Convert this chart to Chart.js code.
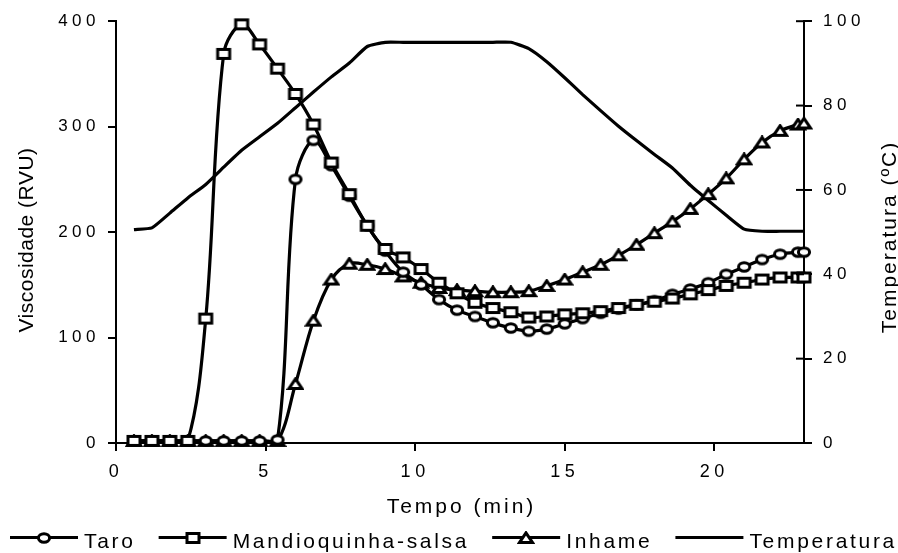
<!DOCTYPE html>
<html>
<head>
<meta charset="utf-8">
<style>
html,body{margin:0;padding:0;background:#fff;}
#wrap{width:898px;height:553px;position:relative;}
</style>
<script src="https://cdn.jsdelivr.net/npm/chart.js@4.4.0/dist/chart.umd.min.js"></script>
</head>
<body>
<div id="wrap"><canvas id="c" width="898" height="553"></canvas></div>
<script>
// ---- data ----
const times = [0.6,1.2,1.8,2.4,3.0,3.6,4.2,4.8,5.4,6.0,6.6,7.2,7.8,8.4,9.0,9.6,10.2,10.8,11.4,12.0,12.6,13.2,13.8,14.4,15.0,15.6,16.2,16.8,17.4,18.0,18.6,19.2,19.8,20.4,21.0,21.6,22.2,22.8,23.0];
const taro = [2,2,2,2,2,2,2,2,3,250,287,263,234,206,182,162,150,136,126,120,114,109,106,108,113,118,123,127,131,135,141,146,152,160,167,174,179,181,181];
const mandioquinha = [2,2,2,2,118,369,397,378,355,331,302,266,236,206,184,176,165,152,142,133,128,124,119,120,122,123,125,128,131,134,137,141,145,149,152,155,157,157,157];
const inhame = [2,2,2,2,2,2,2,2,2,56,116,155,170,169,165,158,152,147,145,144,143,143,144,149,155,162,169,178,188,199,210,222,236,251,269,285,296,302,303];
const temperatura = [50.6,51.0,54.5,58.1,61.3,65.4,69.4,72.6,75.8,79.5,83.2,86.8,90.1,94.0,95,95,95,95,95,95,95,95,93.5,90.4,86.6,82.6,78.8,75.1,71.7,68.4,65.2,61.1,57.5,54.0,50.7,50.2,50.2,50.2,50.2];
const seriesLabels = ['Taro','Mandioquinha-salsa','Inhame','Temperatura'];
const xTicks = [0,5,10,15,20];
const yTicks = [0,100,200,300,400];
const y2Ticks = [0,20,40,60,80,100];
const xTitle = 'Tempo (min)';
const yTitle = 'Viscosidade (RVU)';
const y2Title = 'Temperatura (ºC)';

const FAM = '"Liberation Sans", Arial, Helvetica, sans-serif';

function makeMarker(type){
  const c = document.createElement('canvas');
  c.width = 18; c.height = 14;
  const g = c.getContext('2d');
  g.lineWidth = 3; g.strokeStyle = '#000'; g.fillStyle = '#fff';
  const cx = 9, cy = 7;
  g.beginPath();
  if (type === 'circle') g.ellipse(cx, cy, 5.6, 4.2, 0, 0, Math.PI*2);
  else if (type === 'rect') g.rect(cx-6, cy-4.5, 12, 9);
  else { g.moveTo(cx, cy-5.2); g.lineTo(cx+6.6, cy+4.6); g.lineTo(cx-6.6, cy+4.6); g.closePath(); }
  g.fill(); g.stroke();
  return c;
}
const mCircle = makeMarker('circle');
const mRect = makeMarker('rect');
const mTri = makeMarker('tri');

const pts = arr => times.map((t,i) => ({x:t, y:arr[i]}));

function lineDs(label, arr, marker, order, axis){
  return {
    label, data: pts(arr), yAxisID: axis, order,
    borderColor:'#000', borderWidth:3.2, backgroundColor:'#fff',
    tension: marker ? 0.35 : 0.15,
    pointStyle: marker || 'circle', pointRadius: marker ? 6 : 0,
    pointHoverRadius: marker ? 6 : 0,
    clip: false, fill:false, legendMarker: marker
  };
}

const tickGrid = {drawOnChartArea:false, drawTicks:true, tickLength:8, color:'#000', lineWidth:2};
const border = {display:true, color:'#000', width:2};

const deco = {
  id:'deco',
  beforeDraw(chart){ chart.ctx.letterSpacing = '4.5px'; },
  afterDraw(chart){
    const ctx = chart.ctx, a = chart.chartArea;
    ctx.save();
    // inward half of the crossing ticks on the right axis
    const s2 = chart.scales.y2;
    ctx.strokeStyle = '#000'; ctx.lineWidth = 2;
    s2.ticks.forEach(t => {
      const y = s2.getPixelForValue(t.value);
      ctx.beginPath(); ctx.moveTo(a.right - 8, y); ctx.lineTo(a.right, y); ctx.stroke();
    });
    // axis titles
    ctx.fillStyle = '#000'; ctx.textAlign = 'center'; ctx.textBaseline = 'alphabetic';
    ctx.font = '21px ' + FAM;
    ctx.letterSpacing = '3px';
    ctx.fillText(xTitle, (a.left + a.right)/2 + 1.5, 513);
    ctx.save(); ctx.translate(33, 240); ctx.rotate(-Math.PI/2);
    ctx.letterSpacing = '0.5px'; ctx.fillText(yTitle, 0, 0); ctx.restore();
    ctx.save(); ctx.translate(896, 237); ctx.rotate(-Math.PI/2);
    ctx.letterSpacing = '2px'; ctx.fillText(y2Title, 0, 0); ctx.restore();
    // legend
    ctx.textAlign = 'left';
    ctx.letterSpacing = '2.7px';
    const ds = chart.data.datasets;
    const widths = ds.map(d => ctx.measureText(d.label).width);
    const sampleW = 68, gapT = 6, startX = 10, endX = 897;
    const used = widths.reduce((s,w) => s + w + sampleW + gapT, 0);
    const gap = (endX - startX - used) / (ds.length - 1);
    let x = startX;
    const ly = 537.5, ty = 548;
    ds.forEach((d,i) => {
      ctx.beginPath(); ctx.lineWidth = 3.2; ctx.moveTo(x, ly); ctx.lineTo(x + sampleW, ly); ctx.stroke();
      if (d.legendMarker) {
        const m = d.legendMarker;
        ctx.drawImage(m, Math.round(x + sampleW/2 - m.width/2), Math.round(ly - m.height/2));
      }
      ctx.fillText(d.label, x + sampleW + gapT, ty);
      x += sampleW + gapT + widths[i] + gap;
    });
    ctx.restore();
  }
};

new Chart(document.getElementById('c'), {
  type:'line',
  data:{
    datasets:[
      lineDs(seriesLabels[0], taro, mCircle, 1, 'y'),
      lineDs(seriesLabels[1], mandioquinha, mRect, 0, 'y'),
      lineDs(seriesLabels[2], inhame, mTri, 2, 'y'),
      lineDs(seriesLabels[3], temperatura, null, 3, 'y2')
    ]
  },
  options:{
    responsive:false, animation:false, devicePixelRatio:1,
    layout:{padding:{left:56, right:34, top:19, bottom:60}},
    plugins:{legend:{display:false}, tooltip:{enabled:false}},
    scales:{
      x:{type:'linear', min:0, max:23,
        afterFit(s){ s.height = 50; },
        afterBuildTicks(s){ s.ticks = xTicks.map(v => ({value:v})); },
        ticks:{color:'#000', font:{family:FAM, size:18}, padding:10, maxRotation:0, autoSkip:false},
        grid:tickGrid, border:border},
      y:{position:'left', min:0, max:400,
        afterFit(s){ s.width = 60; },
        afterBuildTicks(s){ s.ticks = yTicks.map(v => ({value:v})); },
        ticks:{color:'#000', font:{family:FAM, size:17}, padding:8},
        grid:tickGrid, border:border},
      y2:{position:'right', min:0, max:100,
        afterFit(s){ s.width = 60; },
        afterBuildTicks(s){ s.ticks = y2Ticks.map(v => ({value:v})); },
        ticks:{color:'#000', font:{family:FAM, size:17}, padding:11},
        grid:tickGrid, border:border}
    }
  },
  plugins:[deco]
});
</script>
</body>
</html>
